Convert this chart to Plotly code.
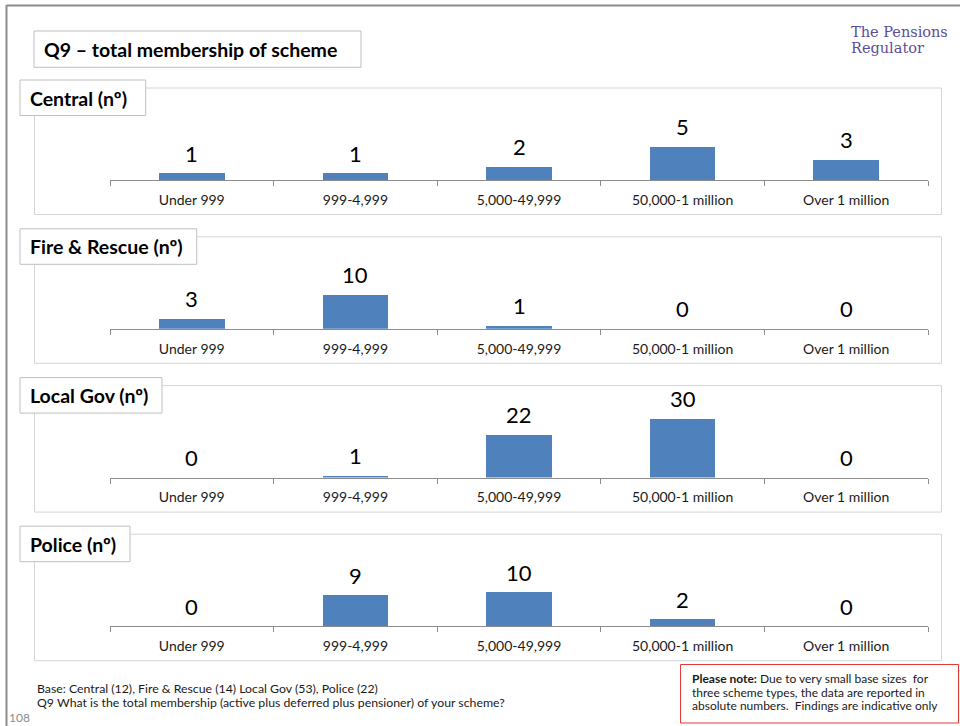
import plotly.graph_objects as go

# ---------------- data ----------------
categories = ["Under 999", "999-4,999", "5,000-49,999", "50,000-1 million", "Over 1 million"]
panel_titles = ["Central (nº)", "Fire & Rescue (nº)", "Local Gov (nº)", "Police (nº)"]
central = [1, 1, 2, 5, 3]
fire_rescue = [3, 10, 1, 0, 0]
local_gov = [0, 1, 22, 30, 0]
police = [0, 9, 10, 2, 0]
series = [central, fire_rescue, local_gov, police]

title_text = "Q9 – total membership of scheme"
logo_lines = ["The Pensions", "Regulator"]
footer_lines = [
    "Base: Central (12), Fire & Rescue (14) Local Gov (53), Police (22)",
    "Q9 What is the total membership (active plus deferred plus pensioner) of your scheme?",
]
note_lines = [
    "<b>Please note:</b> Due to very small base sizes  for",
    "three scheme types, the data are reported in",
    "absolute numbers.  Findings are indicative only",
]
page_number = "108"

# ---------------- layout helpers ----------------
W, H = 960, 726
FONT = "Lato, 'Open Sans', sans-serif"
BAR_COLOR = "#4f81bd"


def px(x):
    return x / W


def py(y):
    return 1 - y / H


def tight_lines(lines, size):
    # larger visible text inside a smaller base font -> tighter line spacing
    return "<br>".join('<span style="font-size:%spx">%s</span>' % (size, t) for t in lines)


axis_ys = [180, 328.8, 477.6, 626.2]          # pixel y of each panel's baseline
plot_h = 80                                    # pixel height of each plot area
px_per_unit = [6.7, 3.4, 1.97, 3.4]            # vertical scale per panel
label_box_right = [145.7, 196.7, 162, 130]

fig = go.Figure()
shapes = []
annotations = []
layout_axes = {}

for i, vals in enumerate(series):
    n = "" if i == 0 else str(i + 1)
    ay = axis_ys[i]
    fig.add_trace(go.Bar(
        x=categories, y=vals, width=0.4,
        marker=dict(color=BAR_COLOR, line=dict(width=0)),
        xaxis="x" + n, yaxis="y" + n, showlegend=False, hoverinfo="x+y",
    ))
    layout_axes["xaxis" + n] = dict(
        domain=[px(110), px(928)], anchor="y" + n,
        type="category", range=[-0.5, 4.5],
        showline=True, linecolor="#8c8c8c", linewidth=1,
        ticks="outside", tickson="boundaries", ticklen=5, tickcolor="#8c8c8c",
        tickfont=dict(family=FONT, size=14, color="#1a1a1a"),
        ticklabelstandoff=7,
        showgrid=False, zeroline=False, fixedrange=True,
    )
    layout_axes["yaxis" + n] = dict(
        domain=[py(ay), py(ay - plot_h)], anchor="x" + n,
        range=[0, plot_h / px_per_unit[i]], visible=False, fixedrange=True,
    )
    # value labels
    for c, v in zip(categories, vals):
        annotations.append(dict(
            x=c, y=v, xref="x" + n, yref="y" + n, text=str(v), showarrow=False,
            yanchor="middle", yshift=20,
            font=dict(family=FONT, size=22, color="#000000"),
        ))
    # panel outer box
    shapes.append(dict(type="rect", xref="paper", yref="paper",
                       x0=px(34.5), x1=px(941.5), y0=py(ay + 34.5), y1=py(ay - 92),
                       line=dict(color="#d4d4d4", width=1), fillcolor="rgba(0,0,0,0)",
                       layer="below"))
    # label box
    shapes.append(dict(type="rect", xref="paper", yref="paper",
                       x0=px(20), x1=px(label_box_right[i]), y0=py(ay - 64.5), y1=py(ay - 100),
                       line=dict(color="#bfbfbf", width=1), fillcolor="#ffffff",
                       layer="above"))
    annotations.append(dict(
        x=px(28), y=py(ay - 82), xref="paper", yref="paper",
        xanchor="left", yanchor="middle", showarrow=False,
        text="<b>" + panel_titles[i] + "</b>",
        font=dict(family=FONT, size=19.5, color="#000000"),
    ))

# title box
shapes.append(dict(type="rect", xref="paper", yref="paper",
                   x0=px(34), x1=px(361), y0=py(67.3), y1=py(31),
                   line=dict(color="#bfbfbf", width=1), fillcolor="#ffffff"))
annotations.append(dict(
    x=px(42), y=py(49.5), xref="paper", yref="paper", xanchor="left", yanchor="middle",
    showarrow=False, text="<b>" + title_text + "</b>",
    font=dict(family=FONT, size=19.5, color="#000000"),
))

# page border
shapes.append(dict(type="line", xref="paper", yref="paper",
                   x0=px(6.5), x1=px(6.5), y0=0, y1=py(5),
                   line=dict(color="#8c8c8c", width=2)))
shapes.append(dict(type="line", xref="paper", yref="paper",
                   x0=px(6.5), x1=1, y0=py(5.5), y1=py(5.5),
                   line=dict(color="#8c8c8c", width=2)))

# logo text
annotations.append(dict(
    x=px(850), y=py(40), xref="paper", yref="paper", xanchor="left", yanchor="middle",
    showarrow=False, align="left", text=tight_lines(logo_lines, 14.5), borderpad=0,
    font=dict(family="'DejaVu Serif', 'Liberation Serif', serif", size=12.3, color="#5a4e99"),
))

# footer
annotations.append(dict(
    x=px(36), y=py(695), xref="paper", yref="paper", xanchor="left", yanchor="middle",
    showarrow=False, align="left", text=tight_lines(footer_lines, 12.3), borderpad=0,
    font=dict(family=FONT, size=10.4, color="#1a1a1a"),
))
annotations.append(dict(
    x=px(8), y=py(726), xref="paper", yref="paper", xanchor="left", yanchor="bottom",
    showarrow=False, text=page_number, borderpad=0,
    font=dict(family=FONT, size=12, color="#8c8c8c"),
))

# note box
shapes.append(dict(type="rect", xref="paper", yref="paper",
                   x0=px(680.5), x1=px(958.5), y0=py(723), y1=py(664.5),
                   line=dict(color="#e53935", width=1), fillcolor="#ffffff"))
annotations.append(dict(
    x=px(691), y=py(691.5), xref="paper", yref="paper", xanchor="left", yanchor="middle",
    showarrow=False, align="left", text=tight_lines(note_lines, 12), borderpad=0,
    font=dict(family=FONT, size=10.4, color="#1a1a1a"),
))

fig.update_layout(
    width=W, height=H, autosize=False,
    margin=dict(l=0, r=0, t=0, b=0),
    paper_bgcolor="#ffffff", plot_bgcolor="rgba(0,0,0,0)",
    shapes=shapes, annotations=annotations,
    bargap=0, showlegend=False,
    **layout_axes,
)

fig.write_html(
    "out.html",
    config={"displayModeBar": False},
    post_script="document.body.style.margin='0px';document.body.style.overflow='hidden';",
)
